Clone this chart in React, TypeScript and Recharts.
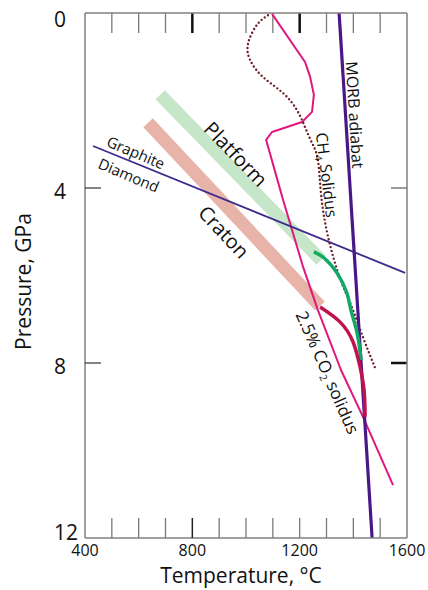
import { ComposedChart, Line, XAxis, YAxis, ReferenceDot, ReferenceLine, Label } from "recharts";

const FONT = '"Open Sans", "Noto Sans", sans-serif';

// temperature (°C) / pressure (GPa) pairs
const morbAdiabat = [
  { t: 1347, p: 0 },
  { t: 1470, p: 12 },
];
const graphiteDiamond = [
  { t: 430, p: 3.04 },
  { t: 1593, p: 5.94 },
];
const platformGeotherm = [
  { t: 680, p: 1.87 },
  { t: 1280, p: 5.65 },
];
const cratonGeotherm = [
  { t: 635, p: 2.51 },
  { t: 1276, p: 6.7 },
];
const platformMelt = [
  { t: 1253, p: 5.46 },
  { t: 1291, p: 5.6 },
  { t: 1339, p: 5.94 },
  { t: 1376, p: 6.4 },
  { t: 1391, p: 6.79 },
  { t: 1414, p: 7.31 },
  { t: 1429, p: 7.93 },
];
const cratonMelt = [
  { t: 1276, p: 6.72 },
  { t: 1350, p: 7.06 },
  { t: 1399, p: 7.52 },
  { t: 1425, p: 8.09 },
  { t: 1440, p: 8.62 },
  { t: 1444, p: 9.23 },
];
const co2Solidus = [
  { t: 1097, p: 0.02 },
  { t: 1220, p: 1.12 },
  { t: 1239, p: 1.46 },
  { t: 1253, p: 1.87 },
  { t: 1246, p: 2.26 },
  { t: 1209, p: 2.49 },
  { t: 1097, p: 2.72 },
  { t: 1075, p: 2.9 },
  { t: 1138, p: 4.27 },
  { t: 1213, p: 5.81 },
  { t: 1268, p: 6.79 },
  { t: 1354, p: 8.16 },
  { t: 1436, p: 9.23 },
  { t: 1548, p: 10.79 },
];
const ch4Solidus = [
  { t: 1082, p: 0.05 },
  { t: 1041, p: 0.27 },
  { t: 1008, p: 0.69 },
  { t: 1015, p: 1.07 },
  { t: 1063, p: 1.46 },
  { t: 1138, p: 1.83 },
  { t: 1190, p: 2.22 },
  { t: 1220, p: 2.61 },
  { t: 1246, p: 2.97 },
  { t: 1268, p: 3.36 },
  { t: 1280, p: 4.16 },
  { t: 1306, p: 5.12 },
  { t: 1350, p: 6.06 },
  { t: 1391, p: 6.67 },
  { t: 1436, p: 7.41 },
  { t: 1481, p: 8.11 },
];

const xTicks = [400, 500, 600, 700, 800, 900, 1000, 1100, 1200, 1300, 1400, 1500, 1600];
const xInnerTicks = [500, 600, 700, 800, 900, 1000, 1100, 1200, 1300, 1400, 1500];
const xLabelTicks = [400, 800, 1200, 1600];
const darkTopTicks = [800, 1200];
const darkBottomTicks = [800];
const yTicks = [0, 4, 8, 12];
const yInnerTicks = [4, 8];

// layout
const W = 428;
const H = 590;
const MARGIN = { top: 12, right: 20, left: 25, bottom: 22 };
const Y_AXIS_W = 60;
const X_AXIS_H = 30;
const PLOT_W = W - MARGIN.left - Y_AXIS_W - MARGIN.right - 1;
const PLOT_H = H - MARGIN.top - 1 - MARGIN.bottom - X_AXIS_H;
// inward tick lengths on the top / right frame, in axis units
const TOP_TICK = (20 * 12) / PLOT_H;
const RIGHT_TICK = (16 * 1200) / PLOT_W;

const AXIS = "#808080";
const MINOR = "#7a7a7a";

const BottomTick = ({ x, y, payload }: any) => {
  const v = payload.value;
  const edge = v === 400 || v === 1600;
  const dark = darkBottomTicks.includes(v);
  return (
    <g>
      {!edge && (
        <path d={`M${x},${y}V${y - 20}`} stroke={dark ? "#222" : MINOR} strokeWidth={dark ? 1.5 : 1.3} fill="none" />
      )}
      {xLabelTicks.includes(v) && (
        <text x={x} y={y + 18} textAnchor="middle" fontFamily={FONT} fontSize={16} fill="#111">
          {v}
        </text>
      )}
    </g>
  );
};

const LeftTick = ({ x, y, payload }: any) => {
  const v = payload.value;
  const dy = v === 0 ? 6 : v === 12 ? -6 : 3;
  return (
    <g>
      {yInnerTicks.includes(v) && <path d={`M${x},${y}H${x + 16}`} stroke="#333" strokeWidth={1.2} fill="none" />}
      <text x={54} y={y + dy} textAnchor="start" dominantBaseline="central" fontFamily={FONT} fontSize={21} fill="#111">
        {v}
      </text>
    </g>
  );
};

const Note = ({ cx, cy, angle, size, children }: any) => (
  <text
    x={cx}
    y={cy}
    transform={`rotate(${angle} ${cx} ${cy})`}
    textAnchor="middle"
    dominantBaseline="central"
    fontFamily={FONT}
    fontSize={size}
    fill="#111"
  >
    {children}
  </text>
);

const App = () => {
  return (
    <div style={{ position: "absolute", left: 0, top: 0, background: "#fff" }}>
      <ComposedChart width={W} height={H} margin={MARGIN}>
        <XAxis
          xAxisId="top"
          orientation="top"
          type="number"
          domain={[400, 1600]}
          height={1}
          tick={false}
          tickLine={false}
          axisLine={{ stroke: AXIS, strokeWidth: 1.5 }}
        />
        <YAxis
          yAxisId="right"
          orientation="right"
          type="number"
          domain={[0, 12]}
          reversed
          width={1}
          tick={false}
          tickLine={false}
          axisLine={{ stroke: AXIS, strokeWidth: 1.5 }}
        />
        <XAxis
          dataKey="t"
          type="number"
          domain={[400, 1600]}
          ticks={xTicks}
          interval={0}
          height={X_AXIS_H}
          tickSize={0}
          tickMargin={0}
          tickLine={false}
          axisLine={{ stroke: AXIS, strokeWidth: 1.5 }}
          tick={(p: any) => <BottomTick {...p} />}
          allowDataOverflow
        >
          <Label
            content={({ viewBox }: any) => (
              <text
                x={viewBox.x + viewBox.width / 2 - 5}
                y={viewBox.y + 45}
                textAnchor="middle"
                fontFamily={FONT}
                fontSize={21}
                fill="#111"
              >
                Temperature, °C
              </text>
            )}
          />
        </XAxis>
        <YAxis
          type="number"
          domain={[0, 12]}
          reversed
          ticks={yTicks}
          interval={0}
          width={Y_AXIS_W}
          tickSize={0}
          tickMargin={0}
          tickLine={false}
          axisLine={{ stroke: AXIS, strokeWidth: 1.5 }}
          tick={(p: any) => <LeftTick {...p} />}
          allowDataOverflow
        >
          <Label
            content={({ viewBox }: any) => {
              const cx = viewBox.x - 2;
              const cy = viewBox.y + viewBox.height / 2 + 6;
              return (
                <text
                  x={cx}
                  y={cy}
                  transform={`rotate(-90 ${cx} ${cy})`}
                  textAnchor="middle"
                  dominantBaseline="central"
                  fontFamily={FONT}
                  fontSize={21}
                  fill="#111"
                >
                  Pressure, GPa
                </text>
              );
            }}
          />
        </YAxis>

        {/* inward ticks on the top and right edges of the frame */}
        {xInnerTicks.map((t) => (
          <ReferenceLine
            key={`tt-${t}`}
            segment={[
              { x: t, y: 0 },
              { x: t, y: TOP_TICK },
            ]}
            stroke={darkTopTicks.includes(t) ? "#111" : MINOR}
            strokeWidth={darkTopTicks.includes(t) ? 2.5 : 1.3}
            ifOverflow="visible"
          />
        ))}
        {yInnerTicks.map((p) => (
          <ReferenceLine
            key={`rt-${p}`}
            segment={[
              { x: 1600, y: p },
              { x: 1600 - RIGHT_TICK, y: p },
            ]}
            stroke={p === 8 ? "#111" : MINOR}
            strokeWidth={p === 8 ? 2.5 : 1.5}
            ifOverflow="visible"
          />
        ))}

        <Line data={platformGeotherm} dataKey="p" type="linear" stroke="#c6e6c9" strokeWidth={13} strokeLinecap="butt" dot={false} activeDot={false} isAnimationActive={false} />
        <Line data={cratonGeotherm} dataKey="p" type="linear" stroke="#e8b4aa" strokeWidth={13} strokeLinecap="butt" dot={false} activeDot={false} isAnimationActive={false} />
        <Line data={co2Solidus} dataKey="p" type="linear" stroke="#e0177d" strokeWidth={2} strokeLinejoin="round" dot={false} activeDot={false} isAnimationActive={false} />
        <Line data={graphiteDiamond} dataKey="p" type="linear" stroke="#3c2a8c" strokeWidth={1.8} dot={false} activeDot={false} isAnimationActive={false} />
        <Line data={ch4Solidus} dataKey="p" type="natural" stroke="#6b2026" strokeWidth={2.4} strokeDasharray="0 4" strokeLinecap="round" dot={false} activeDot={false} isAnimationActive={false} />
        <Line data={morbAdiabat} dataKey="p" type="linear" stroke="#4a1789" strokeWidth={3.2} dot={false} activeDot={false} isAnimationActive={false} />
        <Line data={platformMelt} dataKey="p" type="natural" stroke="#13a864" strokeWidth={3.5} dot={false} activeDot={false} isAnimationActive={false} />
        <Line data={cratonMelt} dataKey="p" type="natural" stroke="#c0124f" strokeWidth={3.5} dot={false} activeDot={false} isAnimationActive={false} />

        <ReferenceDot x={963} y={3.22} r={0} shape={(p: any) => <Note cx={p.cx} cy={p.cy} angle={46} size={20}>Platform</Note>} />
        <ReferenceDot x={918} y={5.0} r={0} shape={(p: any) => <Note cx={p.cx} cy={p.cy} angle={47} size={20}>Craton</Note>} />
        <ReferenceDot x={590} y={3.18} r={0} shape={(p: any) => <Note cx={p.cx} cy={p.cy} angle={23} size={15}>Graphite</Note>} />
        <ReferenceDot x={564} y={3.7} r={0} shape={(p: any) => <Note cx={p.cx} cy={p.cy} angle={23} size={15}>Diamond</Note>} />
        <ReferenceDot x={1406} y={2.33} r={0} shape={(p: any) => <Note cx={p.cx} cy={p.cy} angle={86.5} size={16}>MORB adiabat</Note>} />
        <ReferenceDot
          x={1302}
          y={3.7}
          r={0}
          shape={(p: any) => (
            <Note cx={p.cx} cy={p.cy} angle={83} size={16}>
              CH<tspan dy={6} fontSize={10}>4</tspan>
              <tspan dy={-6}> Solidus</tspan>
            </Note>
          )}
        />
        <ReferenceDot
          x={1306}
          y={8.21}
          r={0}
          shape={(p: any) => (
            <Note cx={p.cx} cy={p.cy} angle={66} size={17}>
              2.5% CO<tspan dy={6} fontSize={10}>2</tspan>
              <tspan dy={-6}> solidus</tspan>
            </Note>
          )}
        />
      </ComposedChart>
    </div>
  );
};

export default App;
